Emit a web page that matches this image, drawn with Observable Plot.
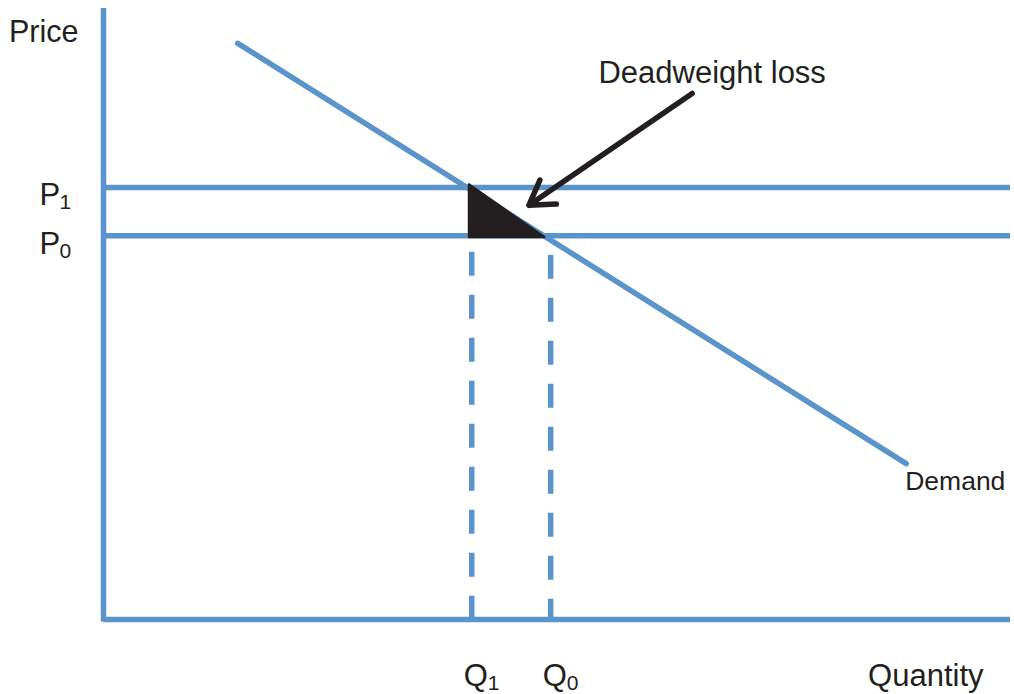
<!DOCTYPE html>
<html>
<head>
<meta charset="utf-8">
<script src="https://cdn.jsdelivr.net/npm/d3@7"></script>
<script src="https://cdn.jsdelivr.net/npm/@observablehq/plot@0.6"></script>
<style>
  html, body { margin: 0; padding: 0; background: #ffffff; }
  #chart svg { display: block; }
</style>
</head>
<body>
<div id="chart"></div>
<script>
// ---- Data (abstract price / quantity units) ----
const Q1 = 40.6;          // quantity with tax
const Q0 = 49.3;          // equilibrium quantity
const P1 = 70.7;          // price with tax
const P0 = 62.8;          // equilibrium price
const demandQ = [14.8, 88.5];
const demandP = [94.3, 25.5];
const triangleQ = [40.3, 40.3, 48.6, 40.3];
const triangleP = [71.2, 62.6, 62.6, 71.2];
const dashTopQ1 = 60.1;
const dashTopQ0 = 59.6;
const arrowFrom = [64.9, 86.1];
const arrowTo = [46.9, 67.8];
const priceLabels = ["P", "P"];
const priceSubs = ["1", "0"];
const qtyLabels = ["Q", "Q"];
const qtySubs = ["1", "0"];
const axisTitleY = "Price";
const axisTitleX = "Quantity";
const demandLabel = "Demand";
const dwlLabel = "Deadweight loss";

const blue = "#5b93cb";
const ink = "#231f20";
const font = "Liberation Sans, Arial, Helvetica, sans-serif";

const demand = demandQ.map((q, i) => ({q, p: demandP[i]}));
const triangle = triangleQ.map((q, i) => ({q, p: triangleP[i]}));
const prices = [P1, P0].map((p, i) => ({p, label: priceLabels[i], sub: priceSubs[i]}));
const qtys = [Q1, Q0].map((q, i) => ({q, label: qtyLabels[i], sub: qtySubs[i]}));
const dashes = [{q: Q1, top: dashTopQ1}, {q: Q0, top: dashTopQ0}];

const chart = Plot.plot({
  width: 1014,
  height: 694,
  marginLeft: 103,
  marginRight: 4,
  marginTop: 8,
  marginBottom: 75,
  x: {domain: [0, 100], axis: null},
  y: {domain: [0, 100], axis: null},
  style: {fontFamily: font, background: "#ffffff", overflow: "visible"},
  marks: [
    // axes
    Plot.ruleX([0], {x: d => d, y1: 100, y2: -0.4, stroke: blue, strokeWidth: 5.5}),
    Plot.ruleY([0], {y: d => d, x1: 0, x2: 100, stroke: blue, strokeWidth: 5.5}),
    // price lines
    Plot.ruleY([P1, P0], {y: d => d, x1: 0, x2: 100, stroke: blue, strokeWidth: 5.5}),
    // dashed quantity lines
    Plot.ruleX(dashes, {x: "q", y1: "top", y2: 0, stroke: blue, strokeWidth: 5.5, strokeDasharray: "24,19"}),
    // demand
    Plot.line(demand, {x: "q", y: "p", stroke: blue, strokeWidth: 5.5}),
    // deadweight loss triangle
    Plot.line(triangle, {x: "q", y: "p", fill: ink, stroke: ink, strokeWidth: 2.5, strokeLinejoin: "round"}),
    // arrow
    Plot.arrow([{}], {x1: arrowFrom[0], y1: arrowFrom[1], x2: arrowTo[0], y2: arrowTo[1], stroke: ink, strokeWidth: 5.5, headLength: 7.5, headAngle: 64}),
    // labels
    Plot.text([axisTitleY], {x: 0, y: 100, text: d => d, textAnchor: "end", dx: -25, dy: 24, fontSize: 30.5, fill: ink}),
    Plot.text([axisTitleX], {x: 100, y: 0, text: d => d, textAnchor: "end", dx: -27, dy: 57, fontSize: 31, fill: ink}),
    Plot.text(prices, {x: 0, y: "p", text: "label", textAnchor: "start", dx: -64, dy: 8, fontSize: 31, fill: ink}),
    Plot.text(prices, {x: 0, y: "p", text: "sub", textAnchor: "start", dx: -44, dy: 15, fontSize: 21, fill: ink}),
    Plot.text(qtys, {x: "q", y: 0, text: "label", textAnchor: "start", dx: -8, dy: 57, fontSize: 31, fill: ink}),
    Plot.text(qtys, {x: "q", y: 0, text: "sub", textAnchor: "start", dx: 16, dy: 64, fontSize: 21, fill: ink}),
    Plot.text([demandLabel], {x: demandQ[1], y: demandP[1], text: d => d, textAnchor: "start", dx: -1, dy: 18, fontSize: 26.5, fill: ink}),
    Plot.text([dwlLabel], {x: arrowFrom[0], y: arrowFrom[1], text: d => d, textAnchor: "middle", dx: 20, dy: -20, fontSize: 31, fill: ink})
  ]
});
document.getElementById("chart").appendChild(chart);
</script>
</body>
</html>
